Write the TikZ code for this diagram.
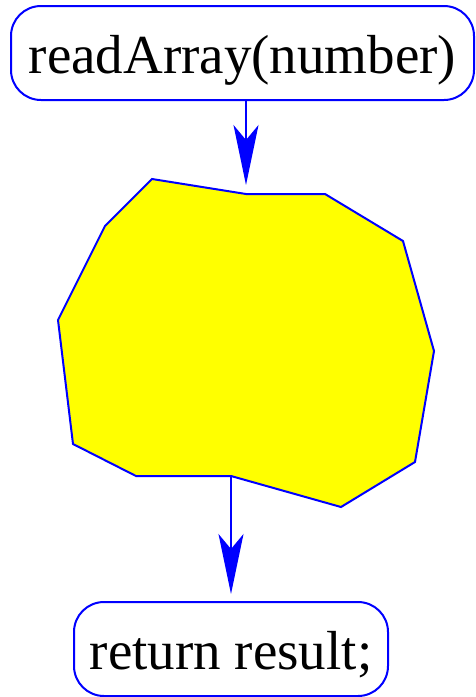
\documentclass[tikz,border=0pt]{standalone}
\usepackage{fontspec}
\setmainfont{Liberation Serif}
\usetikzlibrary{arrows.meta}
\definecolor{blobyellow}{RGB}{255,255,0}
\definecolor{lineblue}{RGB}{0,0,255}
\begin{document}
\begin{tikzpicture}[x=1pt,y=-1pt,
  termbox/.style={draw=lineblue, line width=2pt, rounded corners=30pt, fill=white,
    font=\fontsize{55}{60}\selectfont, inner sep=0pt, text depth=0pt},
  flow/.style={draw=lineblue, line width=2pt, -{Stealth[length=60pt,width=25pt,inset=15pt]}},
  blob/.style={draw=lineblue, line width=2pt, fill=blobyellow, line join=miter}]
\useasboundingbox (0,0) rectangle (475,697);
\node[termbox, minimum width=463pt, minimum height=94pt] (top) at (242.5,53) {\raisebox{-2pt}{readArray(number)}};
\node[termbox, minimum width=314pt, minimum height=94pt] (bot) at (231,649) {\raisebox{-2pt}{return result;}};
\draw[blob] (152,179) -- (246,194) -- (325,194) -- (403,241) -- (434,351) -- (415,462)
  -- (341,507) -- (231,476) -- (136,476) -- (73,444) -- (58,320) -- (105,226) -- cycle;
\coordinate (in1) at (246,185);
\coordinate (out1) at (231,476);
\coordinate (in2) at (231,594);
\draw[flow] (top.south -| in1) -- (in1);
\draw[flow] (out1) -- (in2);
\end{tikzpicture}
\end{document}
